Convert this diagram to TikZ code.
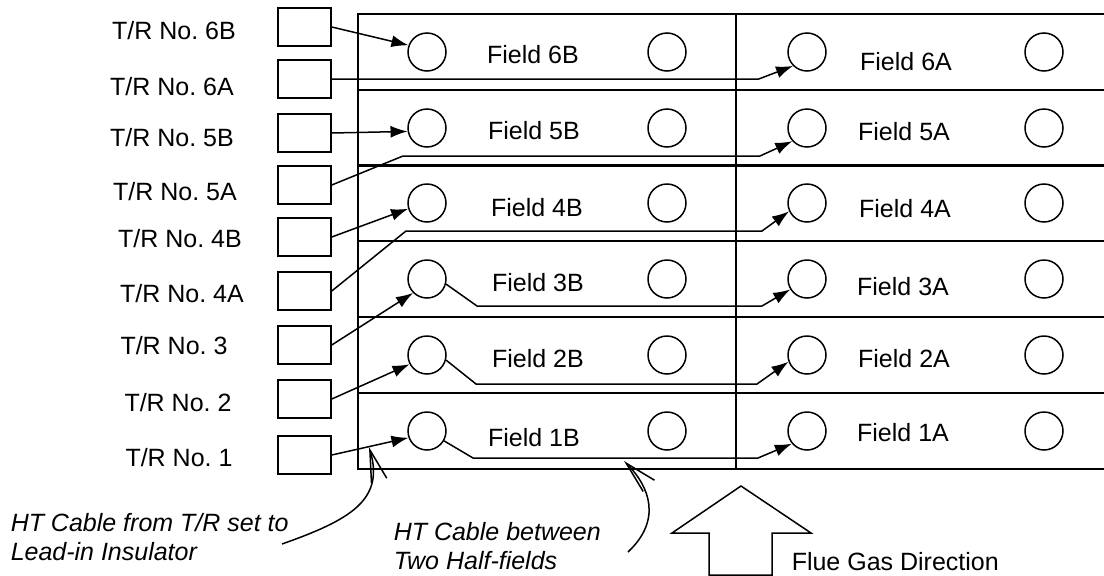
\documentclass[tikz,border=0pt]{standalone}
\usepackage{fontspec}
\setmainfont{Liberation Sans}
\usetikzlibrary{arrows.meta}

\begin{document}
\begin{tikzpicture}[x=1pt, y=-1pt, line width=1.5pt,
    trbox/.style={draw, minimum width=53pt, minimum height=38pt, inner sep=0pt},
    electrode/.style={draw, circle, minimum size=38pt, inner sep=0pt},
    lbl/.style={font=\fontsize{25}{29}\selectfont, inner sep=0pt},
    note/.style={font=\fontsize{25}{29}\selectfont\itshape, align=left, inner sep=0pt},
    cable/.style={-{Latex[length=17pt, width=12pt]}},
    pointer/.style={-{Straight Barb[length=32pt, width=16pt]}}]
   \useasboundingbox (0,0) rectangle (1104,576);

   % Field rows: B half-field on the left, A half-field on the right
   \foreach \n/\top in {6/14, 5/90, 4/165, 3/241, 2/317, 1/393} {
     \draw (358,\top) rectangle (736,\top+76);
     \draw (736,\top) rectangle (1110,\top+76);
     \node[electrode] (c\n B) at (427,\top+38) {};
     \node[electrode] (d\n B) at (667,\top+38) {};
     \node[electrode] (c\n A) at (807,\top+38) {};
     \node[electrode] (d\n A) at (1044,\top+38) {};
   }

   % Field names
   \node[lbl] (f6B) at (533,55) {Field 6B};
   \node[lbl] (f6A) at (906,62) {Field 6A};
   \node[lbl] (f5B) at (534,131) {Field 5B};
   \node[lbl] (f5A) at (904,132) {Field 5A};
   \node[lbl] (f4B) at (537,208) {Field 4B};
   \node[lbl] (f4A) at (905,209) {Field 4A};
   \node[lbl] (f3B) at (538,283) {Field 3B};
   \node[lbl] (f3A) at (903,287) {Field 3A};
   \node[lbl] (f2B) at (538,359) {Field 2B};
   \node[lbl] (f2A) at (904,359) {Field 2A};
   \node[lbl] (f1B) at (534,438) {Field 1B};
   \node[lbl] (f1A) at (903,433) {Field 1A};

   % T/R sets
   \foreach \n/\by/\lx/\ly in {6B/27/174/31, 6A/79/172/87, 5B/133/172/138,
       5A/185/175/192, 4B/237/180/239, 4A/291/182/294, 3/345/174/346,
       2/399/178/403, 1/455/179/458} {
     \node[trbox] (tr\n) at (304.5,\by) {};
     \node[lbl] (t\n) at (\lx,\ly) {T/R No.\ \n};
   }

   % HT cables
   \draw[cable] (tr6B.east) -- (c6B.160);
   \draw[cable] (tr6A.east) -- ++(427,0) -- (c6A.225);
   \draw[cable] (tr5B.east) -- (c5B.190);
   \draw[cable] (tr5A.east) -- (403,156) -- (760,156) -- (c5A.222);
   \draw[cable] (tr4B.east) -- (c4B.197);
   \draw[cable] (tr4A.east) -- (406,231) -- (762,231) -- (c4A.205);
   \draw[cable] (tr3.east) -- (c3B.225);
   \draw[cable] (c3B.-15) -- (477,306) -- (762,306) -- (c3A.212);
   \draw[cable] (tr2.east) -- (c2B.208);
   \draw[cable] (c2B.-15) -- (476,384) -- (757,384) -- (c2A.200);
   \draw[cable] (tr1.east) -- (c1B.200);
   \draw[cable] (c1B.-30) -- (473,458) -- (758,458) -- (c1A.220);

   % Notes
   \node[note, anchor=north west] (n1) at (10,513) {HT Cable from T/R set to\\Lead-in Insulator};
   \node[note, anchor=north west] (n2) at (393,522) {HT Cable between\\Two Half-fields};
   \coordinate (p1s) at (282,544);
   \coordinate (p1) at (369,447);
   \coordinate (p2s) at (628,552);
   \coordinate (p2) at (624,461);
   \draw[pointer] (p1s) .. controls (350,520) and (385,500) .. (p1);
   \draw[pointer] (p2s) .. controls (662,520) and (650,487) .. (p2);

   % Flue gas arrow
   \draw (741,486) -- (811,533) -- (772,533) -- (772,575) -- (709,575) -- (709,533) -- (672,533) -- cycle;
   \node[lbl, anchor=west] (flue) at (791,562) {Flue Gas Direction};
\end{tikzpicture}
\end{document}
